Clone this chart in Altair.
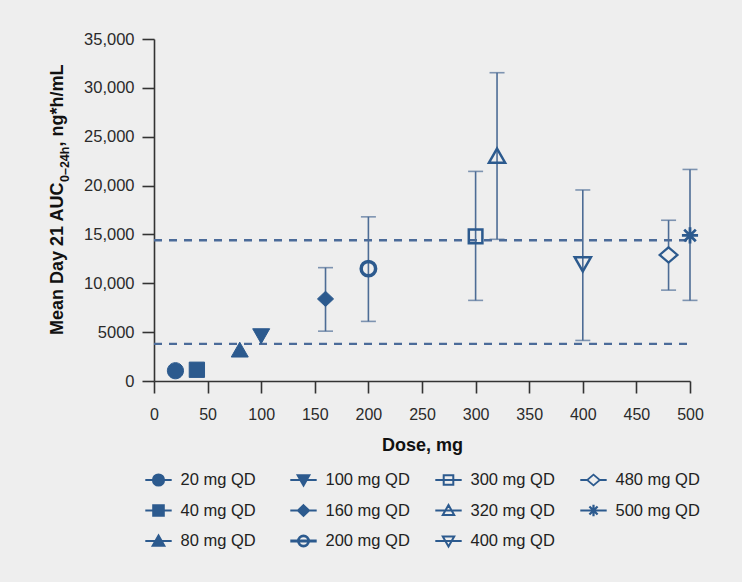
import altair as alt
import pandas as pd

# Dose groups, Day 21 mean AUC(0-24h) and the error-bar limits (ng*h/mL)
series = ["20 mg QD", "40 mg QD", "80 mg QD", "100 mg QD", "160 mg QD", "200 mg QD",
          "300 mg QD", "320 mg QD", "400 mg QD", "480 mg QD", "500 mg QD"]
dose = [20, 40, 80, 100, 160, 200, 300, 320, 400, 480, 500]
mean_auc = [1050, 1150, 3150, 4650, 8400, 11500, 14800, 23000, 12000, 12900, 14900]
err_low = [None, None, None, None, 5100, 6100, 8250, 14500, 4150, 9300, 8250]
err_high = [None, None, None, None, 11600, 16800, 21450, 31550, 19550, 16450, 21650]

# Horizontal dashed reference levels
ref_levels = [14400, 3800]

x_ticks = list(range(0, 501, 50))
y_ticks = list(range(0, 35001, 5000))

BLUE = "#2c5a8e"
ERR = "#4d6c95"
DASH = "#4b6b99"
BG = "#eeeeee"
AXIS = "#333333"
FONT = "Liberation Sans"

# Marker glyphs as SVG paths in the unit square
marker_path = {
    "20 mg QD": "M-0.95,0A0.95,0.95 0 1,0 0.95,0A0.95,0.95 0 1,0 -0.95,0Z",
    "40 mg QD": "M-0.9,-0.9H0.9V0.9H-0.9Z",
    "80 mg QD": "M0,-0.95L1,0.8H-1Z",
    "100 mg QD": "M0,0.95L1,-0.8H-1Z",
    "160 mg QD": "M0,-0.9L0.95,0L0,0.9L-0.95,0Z",
    "200 mg QD": "M-0.85,0A0.85,0.85 0 1,0 0.85,0A0.85,0.85 0 1,0 -0.85,0Z",
    "300 mg QD": "M-0.8,-0.8H0.8V0.8H-0.8Z",
    "320 mg QD": "M0,-0.9L0.95,0.75H-0.95Z",
    "400 mg QD": "M0,0.9L0.95,-0.75H-0.95Z",
    "480 mg QD": "M0,-0.9L1.05,0L0,0.9L-1.05,0Z",
    "500 mg QD": "M0,-0.95V0.95M-0.95,0H0.95M-0.68,-0.68L0.68,0.68M-0.68,0.68L0.68,-0.68",
}
marker_fill = {
    "20 mg QD": BLUE, "40 mg QD": BLUE, "80 mg QD": BLUE, "100 mg QD": BLUE,
    "160 mg QD": BLUE, "200 mg QD": "transparent", "300 mg QD": "transparent",
    "320 mg QD": "transparent", "400 mg QD": "transparent", "480 mg QD": BG,
    "500 mg QD": BLUE,
}
marker_stroke_w = {
    "20 mg QD": 1, "40 mg QD": 1, "80 mg QD": 1, "100 mg QD": 1, "160 mg QD": 1,
    "200 mg QD": 3.5, "300 mg QD": 2.5, "320 mg QD": 2.5, "400 mg QD": 2.5,
    "480 mg QD": 2.2, "500 mg QD": 2.8,
}
# Legend keys: the marker with a short line through it
legend_line = {s: "M-2.2,0H2.2" for s in series}
legend_line["480 mg QD"] = "M-2.2,0H-1.05M1.05,0H2.2"
legend_path = {s: marker_path[s] + legend_line[s] for s in series}
legend_stroke_w = {s: (1.8 if w == 1 else round(w * 0.8, 2)) for s, w in marker_stroke_w.items()}

df = pd.DataFrame({"series": series, "dose": dose, "auc": mean_auc,
                   "lo": err_low, "hi": err_high})
err_df = df.dropna(subset=["lo", "hi"])
ref_df = pd.DataFrame({"level": ref_levels, "x0": [0] * len(ref_levels),
                       "x1": [500] * len(ref_levels)})

# Legend grid: three rows per column, four columns, laid out in pixels below the plot
LEG_ROWS, COL_STEP, ROW_STEP = 3, 145, 30.5
LEG_X0, LEG_Y0, KEY_GAP = 4.5, 441, 22
legend_df = pd.DataFrame({
    "series": series,
    "kx": [LEG_X0 + (i // LEG_ROWS) * COL_STEP for i in range(len(series))],
    "ky": [LEG_Y0 + (i % LEG_ROWS) * ROW_STEP for i in range(len(series))],
})
legend_df["tx"] = legend_df["kx"] + KEY_GAP

x_enc = alt.X("dose:Q", scale=alt.Scale(domain=[0, 500], nice=False, zero=False),
              axis=alt.Axis(values=x_ticks, title="Dose, mg", labelPadding=13.5,
                            titlePadding=14, labelFlush=False))
y_scale = alt.Scale(domain=[0, 35000], nice=False)
y_axis = alt.Axis(values=y_ticks, title=None, labelPadding=8, labelFontSize=16.5,
                  labelExpr="datum.value >= 10000 ? format(datum.value, ',') : format(datum.value, 'd')")

ref_lines = alt.Chart(ref_df).mark_rule(color=DASH, strokeWidth=2.4, strokeDash=[8, 7]).encode(
    x=alt.X("x0:Q", scale=alt.Scale(domain=[0, 500], nice=False)), x2="x1:Q",
    y=alt.Y("level:Q", scale=y_scale, axis=y_axis),
)

err_rules = alt.Chart(err_df).mark_rule(color=ERR, strokeWidth=1.6).encode(
    x=x_enc, y=alt.Y("lo:Q", scale=y_scale, axis=y_axis), y2="hi:Q",
)
cap_lo = alt.Chart(err_df).mark_tick(color=ERR, orient="horizontal", size=15, thickness=1.6).encode(
    x="dose:Q", y="lo:Q")
cap_hi = alt.Chart(err_df).mark_tick(color=ERR, orient="horizontal", size=15, thickness=1.6).encode(
    x="dose:Q", y="hi:Q")

points = alt.Chart(df).mark_point(size=289, opacity=1, stroke=BLUE).encode(
    x=x_enc,
    y=alt.Y("auc:Q", scale=y_scale, axis=y_axis),
    shape=alt.Shape("series:N", scale=alt.Scale(domain=series, range=[marker_path[s] for s in series]),
                    legend=None),
    fill=alt.Fill("series:N", scale=alt.Scale(domain=series, range=[marker_fill[s] for s in series]),
                  legend=None),
    strokeWidth=alt.StrokeWidth(
        "series:N",
        scale=alt.Scale(type="ordinal", domain=series, range=[marker_stroke_w[s] for s in series]),
        legend=None),
)

# Y-axis title with a subscripted interval, drawn as three rotated text runs
title_parts = ["Mean Day 21 AUC", "0\u201324h", ", ng*h/mL"]
title_sizes = [18, 12.5, 18]
title_y = [296, 143, 107.6]
title_x = [-91, -85, -91]
title_layers = [
    alt.Chart(pd.DataFrame({"t": [t]})).mark_text(
        angle=270, align="left", baseline="alphabetic", font=FONT, fontSize=fs,
        fontWeight="bold", color="#111111",
    ).encode(x=alt.value(tx), y=alt.value(ty), text="t:N")
    for t, fs, tx, ty in zip(title_parts, title_sizes, title_x, title_y)
]

plot_layer = alt.layer(ref_lines, err_rules, cap_lo, cap_hi, points)

legend_keys = alt.Chart(legend_df).mark_point(size=144, opacity=1, stroke=BLUE).encode(
    x=alt.X("kx:Q", scale=None, axis=None),
    y=alt.Y("ky:Q", scale=None, axis=None),
    shape=alt.Shape("series:N", scale=alt.Scale(domain=series, range=[legend_path[s] for s in series]),
                    legend=None),
    fill=alt.Fill("series:N", scale=alt.Scale(domain=series, range=[marker_fill[s] for s in series]),
                  legend=None),
    strokeWidth=alt.StrokeWidth(
        "series:N",
        scale=alt.Scale(type="ordinal", domain=series, range=[legend_stroke_w[s] for s in series]),
        legend=None),
)
legend_text = alt.Chart(legend_df).mark_text(
    align="left", baseline="middle", font=FONT, fontSize=16.5, color="#222222",
).encode(
    x=alt.X("tx:Q", scale=None, axis=None),
    y=alt.Y("ky:Q", scale=None, axis=None),
    text="series:N",
)
legend_layer = alt.layer(legend_keys, legend_text)

chart = alt.layer(plot_layer, legend_layer, *title_layers).resolve_scale(
    x="independent", y="independent", shape="independent", fill="independent",
    strokeWidth="independent",
).properties(
    width=536, height=342, background=BG,
    autosize=alt.AutoSizeParams(type="none"),
    padding={"left": 154, "top": 39, "right": 52, "bottom": 201},
).configure_view(stroke=None).configure_axis(
    grid=False, domainColor=AXIS, domainWidth=1.6, tickColor=AXIS, tickWidth=1.6,
    tickSize=12, labelFont=FONT, labelFontSize=16, labelColor="#2a2a2a",
    titleFont=FONT, titleFontSize=18, titleFontWeight="bold", titleColor="#111111",
)

chart.save("out.html", embed_options={"renderer": "svg", "actions": False})
